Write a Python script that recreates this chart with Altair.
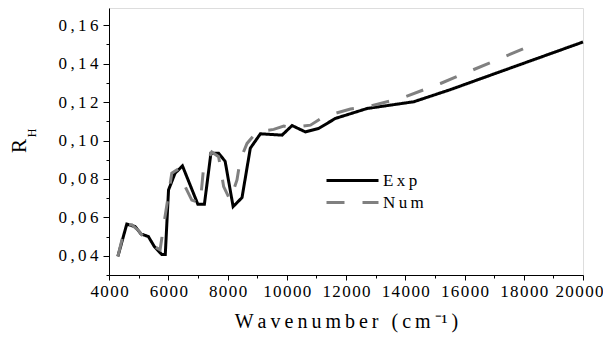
import altair as alt
import pandas as pd

# ---- data ----
exp_x = [4300, 4600, 4880, 5080, 5330, 5530, 5780, 5900, 6010, 6230, 6480, 7000, 7220,
         7440, 7700, 7920, 8190, 8490, 8770, 9110, 9840, 10180, 10630, 11080, 11640,
         12715, 14290, 15540, 17000, 20000]
exp_y = [0.0397, 0.0565, 0.0552, 0.0514, 0.0500, 0.0448, 0.0407, 0.0407, 0.0743, 0.0830,
         0.0868, 0.0668, 0.0668, 0.0934, 0.0934, 0.0892, 0.0656, 0.0703, 0.0960, 0.1035,
         0.1028, 0.1078, 0.1045, 0.1063, 0.1115, 0.1167, 0.1202, 0.1266, 0.1347, 0.1513]

num_x = [4300, 4560, 4770, 4990, 5330, 5725, 5840, 6120, 6290, 6795, 7080, 7190, 7470,
         7700, 7870, 8090, 8320, 8430, 8660, 9000, 9560, 9900, 10120, 10800, 11250,
         12150, 12715, 13840, 15190, 18530]
num_y = [0.0397, 0.0561, 0.0561, 0.0532, 0.0466, 0.0431, 0.0552, 0.0830, 0.0847, 0.0690,
         0.0674, 0.0855, 0.0940, 0.0916, 0.0760, 0.0690, 0.0795, 0.0900, 0.0985, 0.1046,
         0.1058, 0.1075, 0.1068, 0.1080, 0.1124, 0.1164, 0.1176, 0.1219, 0.1297, 0.1513]

series_names = ["Exp", "Num"]
x_ticks = list(range(4000, 20001, 1000))
y_ticks = [round(0.03 + 0.01 * i, 2) for i in range(14)]
x_title = "W\u2009a\u2009v\u2009e\u2009n\u2009u\u2009m\u2009b\u2009e\u2009r\u2009 \u2009(\u2009c\u2009m\u2009\u207b\u00b9\u2009)"
y_title_main = "R"
y_title_sub = "H"

FONT = "Liberation Serif, Times New Roman, serif"

df = pd.DataFrame({
    "wn": exp_x + num_x,
    "r": exp_y + num_y,
    "series": [series_names[0]] * len(exp_x) + [series_names[1]] * len(num_x),
    "order": list(range(len(exp_x))) + list(range(len(num_x))),
})

legend_kw = dict(
    title=None, orient="none", legendX=216, legendY=164,
    symbolType="stroke", symbolSize=2704, symbolStrokeWidth=3,
    clipHeight=17,
    labelFont=FONT, labelFontSize=17, labelColor="black",
    labelOffset=3, rowPadding=4, padding=0,
    labelExpr="replace(datum.label, regexp('(.)(?=.)', 'g'), '$1\u2009')",
)

lines = alt.Chart(df).mark_line(strokeWidth=3, strokeCap="butt", strokeJoin="miter").encode(
    x=alt.X("wn:Q",
            scale=alt.Scale(domain=[4000, 20000], nice=False, zero=False),
            axis=alt.Axis(
                values=x_ticks, format="d", title=x_title,
                titleFont=FONT, titleFontSize=20, titleFontWeight="normal",
                titleColor="black", titlePadding=12,
                labelFont=FONT, labelFontSize=17, labelColor="black",
                labelPadding=3, labelFlush=False, labelOverlap=False,
                labelOffset={"condition": {"test": "datum.value == 20000", "value": -4}, "value": 0},
                labelExpr="datum.value % 2000 == 0 ? replace(datum.label, regexp('(.)(?=.)', 'g'), '$1\u200a') : ''",
                tickSize={"condition": {"test": "datum.value % 2000 == 0", "value": 5}, "value": 3},
                tickColor="black", domainColor="black", grid=False,
            )),
    y=alt.Y("r:Q",
            scale=alt.Scale(domain=[0.03, 0.169], nice=False, zero=False),
            axis=alt.Axis(
                values=y_ticks, title=None,
                labelFont=FONT, labelFontSize=17, labelColor="black",
                labelPadding=5, labelOverlap=False, labelFlush=False,
                labelExpr="round(datum.value*100) % 2 == 0 ? replace(replace(format(datum.value, '.2f'), '.', ','), regexp('(.)(?=.)', 'g'), '$1\u2009') : ''",
                tickSize={"condition": {"test": "round(datum.value*100) % 2 == 0", "value": 6}, "value": 3},
                tickColor="black", domainColor="black", grid=False,
            )),
    color=alt.Color("series:N",
                    scale=alt.Scale(domain=series_names, range=["#000000", "#808080"]),
                    legend=alt.Legend(**legend_kw)),
    strokeDash=alt.StrokeDash("series:N",
                              scale=alt.Scale(domain=series_names, range=[[1, 0], [18, 18]]),
                              legend=alt.Legend(**legend_kw)),
    order="order:Q",
)

title_df = pd.DataFrame({"t": [y_title_main]})
sub_df = pd.DataFrame({"t": [y_title_sub]})

ytitle = alt.Chart(title_df).mark_text(
    angle=270, font=FONT, fontSize=21, color="black", align="center", baseline="middle"
).encode(text="t:N", x=alt.value(-89), y=alt.value(138))

ysub = alt.Chart(sub_df).mark_text(
    angle=270, font=FONT, fontSize=12, color="black", align="center", baseline="middle"
).encode(text="t:N", x=alt.value(-77), y=alt.value(125))

chart = alt.layer(lines, ytitle, ysub).properties(
    width=474, height=267,
    autosize=alt.AutoSizeParams(type="none"),
    padding={"left": 101, "top": 0, "right": 20, "bottom": 59},
).configure_view(stroke="black", strokeWidth=1).configure(background="white")

chart.save("out.html", embed_options={"renderer": "svg", "actions": False})
